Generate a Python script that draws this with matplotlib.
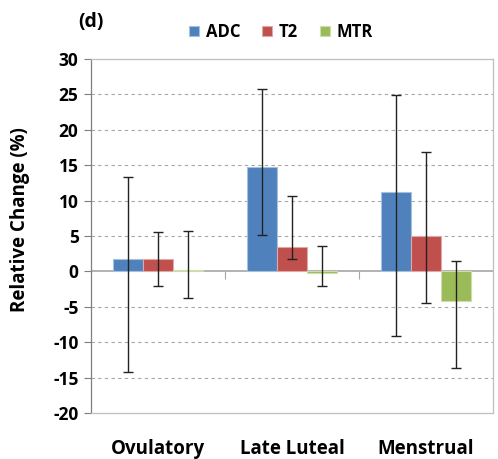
import matplotlib
matplotlib.use("Agg")
import matplotlib.pyplot as plt
import numpy as np

categories = ["Ovulatory", "Late Luteal", "Menstrual"]
series = ["ADC", "T2", "MTR"]
colors = ["#4F81BD", "#C0504D", "#9BBB59"]
edges = ["#A7C0DE", "#E0A8A6", "#CDDDAC"]

adc_vals = [1.8, 14.7, 11.2]
adc_low = [-14.2, 5.1, -9.1]
adc_high = [13.3, 25.8, 24.9]

t2_vals = [1.8, 3.4, 5.0]
t2_low = [-2.1, 1.75, -4.5]
t2_high = [5.5, 10.6, 16.8]

mtr_vals = [0.15, -0.25, -4.2]
mtr_low = [-3.7, -2.1, -13.6]
mtr_high = [5.7, 3.55, 1.4]

yticks = list(range(-20, 31, 5))

vals = [adc_vals, t2_vals, mtr_vals]
lows = [adc_low, t2_low, mtr_low]
highs = [adc_high, t2_high, mtr_high]

plt.rcParams['font.family'] = ['Open Sans', 'DejaVu Sans']

fig = plt.figure(figsize=(4.98, 4.59), dpi=100)
ax = fig.add_axes([91/498, 46/459, 402/498, 354/459])

x = np.arange(len(categories))
w = 0.224
for i, (s, v, lo, hi) in enumerate(zip(series, vals, lows, highs)):
    pos = x + (i - 1) * w
    v = np.array(v); lo = np.array(lo); hi = np.array(hi)
    ax.bar(pos, v, width=w, color=colors[i], edgecolor=edges[i], linewidth=0.8,
           label=s, zorder=3)
    ax.errorbar(pos, v, yerr=[v - lo, hi - v], fmt='none', ecolor='#222222',
                elinewidth=1.0, capsize=3.3, capthick=1.0, zorder=4)

ax.set_xlim(-0.5, 2.5)
ax.set_ylim(-20, 30)
ax.set_yticks(yticks)
ax.set_yticklabels([str(t) for t in yticks], fontsize=12.5, fontweight='bold')
for t in yticks:
    if t not in (-20, 0, 30):
        ax.axhline(t, color='#A6A6A6', linestyle=(0, (3, 3)), linewidth=0.8, zorder=1)
ax.axhline(0, color='#A6A6A6', linewidth=1.2, zorder=2)

ax.set_xticks(x)
ax.set_xticklabels(categories, fontsize=13.5, fontweight='bold')
ax.tick_params(axis='x', length=0, pad=19)
ax.tick_params(axis='y', direction='out', length=5, width=0.8, color='#7F7F7F', pad=4)

for sp in ['top', 'right', 'bottom']:
    ax.spines[sp].set_color('#BFBFBF')
    ax.spines[sp].set_linewidth(0.9)
ax.spines['left'].set_color('#7F7F7F')
ax.spines['left'].set_linewidth(0.9)

sec = ax.secondary_xaxis(20/50)
sec.set_xticks([0.5, 1.5])
sec.set_xticklabels(['', ''])
sec.tick_params(direction='out', length=6, width=0.8, color='#A6A6A6')
sec.spines['bottom'].set_visible(False)

ax.set_ylabel("Relative Change (%)", fontsize=13.5, fontweight='bold')
ax.yaxis.set_label_coords((30 - 91) / 402, (413 - 220) / 354)

leg = fig.legend(loc='center', bbox_to_anchor=(281/498, 1 - 32/459), ncol=3,
                 frameon=False, fontsize=12, handlelength=0.6, handleheight=0.6,
                 columnspacing=1.3, handletextpad=0.4)
for t in leg.get_texts():
    t.set_fontweight('bold')

fig.text(91/498, 1 - 22/459, "(d)", fontsize=14, fontweight='bold', ha='center', va='center')

fig.savefig("out.png", dpi=100)
